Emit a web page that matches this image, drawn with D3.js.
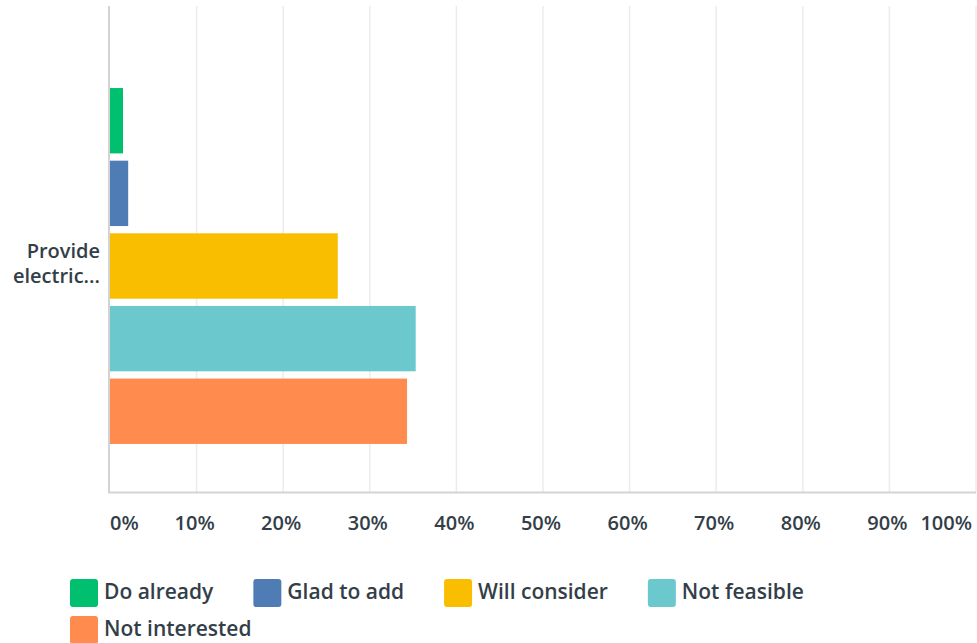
<!DOCTYPE html>
<html>
<head>
<meta charset="utf-8">
<script src="https://cdn.jsdelivr.net/npm/d3@7"></script>
<style>
  body { margin: 0; background: #fff; }
  svg text { font-family: "Open Sans", sans-serif; fill: #333e48; font-weight: 600; }
</style>
</head>
<body>
<div class="chart"></div>
<script>
// survey answers, one question
const categories = ["Provide electric..."];
const series = ["Do already", "Glad to add", "Will consider", "Not feasible", "Not interested"];
const values = [1.5, 2.1, 26.3, 35.3, 34.3];
const colors = ["#00bf6f", "#507cb6", "#f9be00", "#6bc8cd", "#ff8b4f"];
const ticks = [0, 10, 20, 30, 40, 50, 60, 70, 80, 90, 100];

const w = 977;
const h = 643;
const plotLeft = 110, plotRight = 976, plotTop = 6, plotBottom = 492;

let svg = d3.select(".chart").append("svg")
  .attr("width", w)
  .attr("height", h);

const xScale = d3.scaleLinear().domain([0, 100]).range([plotLeft, plotRight]);

const yCat = d3.scaleBand()
  .domain(categories)
  .range([40, plotBottom])
  .paddingOuter(0.135);

const yBar = d3.scaleBand()
  .domain(series)
  .range([yCat(categories[0]), yCat(categories[0]) + yCat.bandwidth()])
  .paddingInner(0.1);

// grid
svg.append("g").selectAll("line")
  .data(ticks.slice(1))
  .enter().append("line")
  .attr("x1", d => xScale(d)).attr("x2", d => xScale(d))
  .attr("y1", plotTop).attr("y2", plotBottom)
  .attr("stroke", "#ececec")
  .attr("stroke-width", 1.5);

// axis lines
svg.append("line")
  .attr("x1", plotLeft - 1).attr("x2", plotLeft - 1)
  .attr("y1", plotTop).attr("y2", plotBottom + 1)
  .attr("stroke", "#d3d3d3").attr("stroke-width", 2);
svg.append("line")
  .attr("x1", plotLeft - 2).attr("x2", plotRight)
  .attr("y1", plotBottom + 0.5).attr("y2", plotBottom + 0.5)
  .attr("stroke", "#d3d3d3").attr("stroke-width", 2);

// bars
svg.append("g").selectAll("rect")
  .data(values)
  .enter().append("rect")
  .attr("x", xScale(0))
  .attr("y", (d, i) => yBar(series[i]))
  .attr("width", d => xScale(d) - xScale(0))
  .attr("height", yBar.bandwidth())
  .style("fill", (d, i) => colors[i]);

// category label, wrapped in two lines
let catMid = yCat(categories[0]) + yCat.bandwidth() / 2;
let catText = svg.append("text")
  .attr("text-anchor", "end")
  .style("font-size", "20px");
catText.append("tspan").attr("x", 100).attr("y", catMid - 8).text("Provide");
catText.append("tspan").attr("x", 100).attr("y", catMid + 17).text("electric...");

// tick labels
svg.append("g").selectAll("text")
  .data(ticks)
  .enter().append("text")
  .attr("x", d => d === 0 ? xScale(0) : d === 100 ? xScale(100) - 4 : xScale(d) - 2)
  .attr("y", 530)
  .attr("text-anchor", d => d === 0 ? "start" : d === 100 ? "end" : "middle")
  .style("font-size", "20px")
  .text(d => d + "%");

// legend, flowing into rows
let lx = 70, ly = 579;
const maxX = w;
series.forEach((s, i) => {
  let g = svg.append("g");
  g.append("rect")
    .attr("width", 28).attr("height", 28)
    .attr("rx", 3)
    .style("fill", colors[i]);
  let t = g.append("text")
    .attr("x", 34).attr("y", 20)
    .style("font-size", "21px")
    .text(s);
  let tw = t.node().getComputedTextLength();
  if (lx + 34 + tw > maxX - 20) {
    lx = 70;
    ly += 37;
  }
  g.attr("transform", `translate(${lx},${ly})`);
  lx += 34 + tw + 40;
});
</script>
</body>
</html>
